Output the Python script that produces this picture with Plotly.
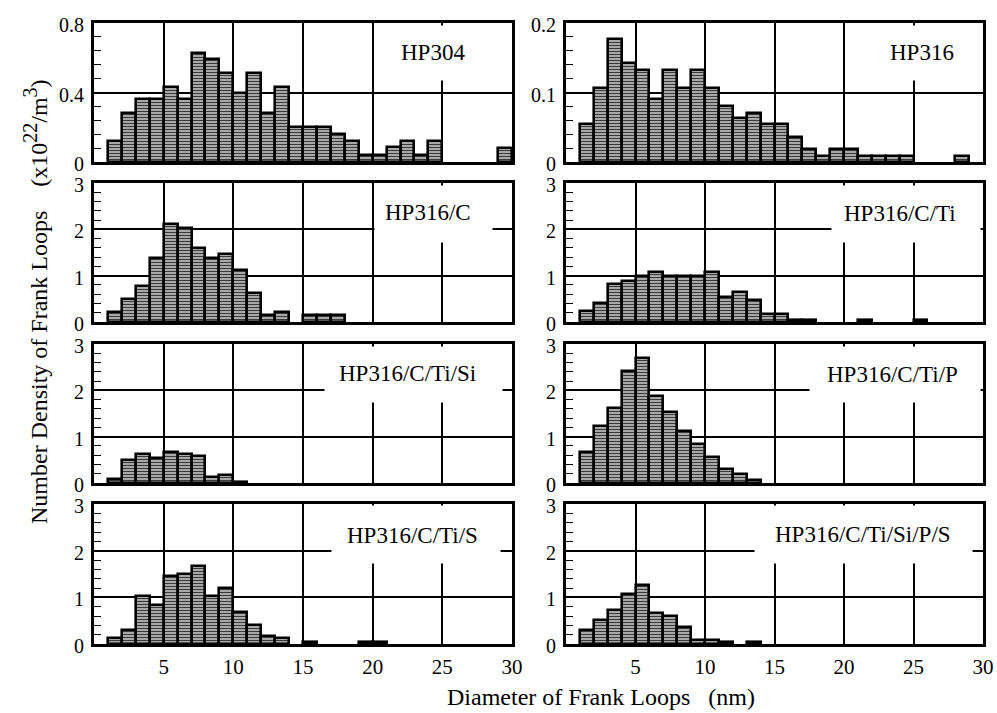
import plotly.graph_objects as go

# ---------------- data ----------------
bin_left = list(range(1, 30))  # bins [1,2], [2,3], ..., [29,30] nm
bin_centers = [b + 0.5 for b in bin_left]

panel_names = ["HP304", "HP316", "HP316/C", "HP316/C/Ti",
               "HP316/C/Ti/Si", "HP316/C/Ti/P", "HP316/C/Ti/S", "HP316/C/Ti/Si/P/S"]

hp304 = [0.12, 0.28, 0.36, 0.36, 0.43, 0.36, 0.63, 0.59, 0.51, 0.40,
         0.51, 0.28, 0.43, 0.20, 0.20, 0.20, 0.16, 0.12, 0.04, 0.04,
         0.085, 0.12, 0.04, 0.12, 0, 0, 0, 0, 0.08]
hp316 = [0.054, 0.107, 0.177, 0.142, 0.133, 0.091, 0.133, 0.107, 0.133, 0.107,
         0.080, 0.063, 0.071, 0.054, 0.054, 0.036, 0.019, 0.009, 0.019, 0.019,
         0.009, 0.009, 0.009, 0.009, 0, 0, 0, 0.009, 0]
hp316_c = [0.22, 0.50, 0.77, 1.39, 2.11, 2.03, 1.60, 1.39, 1.46, 1.13,
           0.63, 0.16, 0.22, 0, 0.16, 0.16, 0.16, 0, 0, 0,
           0, 0, 0, 0, 0, 0, 0, 0, 0]
hp316_c_ti = [0.24, 0.41, 0.83, 0.88, 1.00, 1.07, 1.00, 1.00, 1.00, 1.07,
              0.54, 0.65, 0.47, 0.17, 0.17, 0.05, 0.05, 0, 0, 0,
              0.05, 0, 0, 0, 0.04, 0, 0, 0, 0]
hp316_c_ti_si = [0.09, 0.49, 0.62, 0.53, 0.67, 0.63, 0.58, 0.14, 0.17, 0.02,
                 0, 0, 0, 0, 0, 0, 0, 0, 0, 0,
                 0, 0, 0, 0, 0, 0, 0, 0, 0]
hp316_c_ti_p = [0.66, 1.24, 1.62, 2.41, 2.70, 1.87, 1.53, 1.13, 0.84, 0.56,
                0.30, 0.20, 0.06, 0, 0, 0, 0, 0, 0, 0,
                0, 0, 0, 0, 0, 0, 0, 0, 0]
hp316_c_ti_s = [0.13, 0.30, 1.03, 0.83, 1.46, 1.50, 1.67, 1.03, 1.21, 0.68,
                0.40, 0.18, 0.13, 0, 0.04, 0, 0, 0, 0.04, 0.04,
                0, 0, 0, 0, 0, 0, 0, 0, 0]
hp316_all = [0.30, 0.52, 0.72, 1.07, 1.27, 0.66, 0.60, 0.37, 0.09, 0.09,
             0.04, 0, 0.05, 0, 0, 0, 0, 0, 0, 0,
             0, 0, 0, 0, 0, 0, 0, 0, 0]

series = [hp304, hp316, hp316_c, hp316_c_ti, hp316_c_ti_si, hp316_c_ti_p, hp316_c_ti_s, hp316_all]

y_max = [0.8, 0.2, 3, 3, 3, 3, 3, 3]
y_major = [[0, 0.4, 0.8], [0, 0.1, 0.2]] + [[0, 1, 2, 3]] * 6
y_major_text = [["0", "0.4", "0.8"], ["0", "0.1", "0.2"]] + [["0", "1", "2", "3"]] * 6
y_minor_step = [0.08, 0.02, 0.2, 0.2, 0.2, 0.2, 0.2, 0.2]

x_ticks = [5, 10, 15, 20, 25, 30]
x_tick_text = ["5", "10", "15", "20", "25", "30"]

# ---------------- layout geometry ----------------
W, H = 997, 713
col_px = [(94, 512), (566, 983)]
row_px = [(23, 162), (183, 322), (344, 483), (504, 644)]

# white label boxes (domain fractions: x0, x1, y0) and label text centre (x, y)
label_boxes = [(0.70, 0.98, 0.59), (0.70, 0.98, 0.59), (0.672, 0.952, 0.576), (0.638, 0.993, 0.576),
               (0.553, 0.976, 0.583), (0.585, 0.993, 0.583), (0.569, 0.971, 0.576), (0.453, 0.974, 0.576)]
label_pos = [(0.81, 0.79), (0.854, 0.79), (0.80, 0.79), (0.80, 0.784),
             (0.751, 0.79), (0.782, 0.777), (0.761, 0.777), (0.712, 0.784)]

FONT = "Liberation Serif, Times New Roman, serif"

fig = go.Figure()
layout = dict(
    template="none",
    width=W, height=H, margin=dict(l=0, r=0, t=0, b=0, autoexpand=False),
    paper_bgcolor="white", plot_bgcolor="white", showlegend=False,
    font=dict(family=FONT, color="black", size=20),
    bargap=0,
)
box_annotations = []
text_annotations = []

for k, (name, vals) in enumerate(zip(panel_names, series)):
    r, c = k // 2, k % 2
    xs = "" if k == 0 else str(k + 1)
    xa, ya = "x" + xs, "y" + xs
    yplot = [v if v > 0 else None for v in vals]
    fig.add_trace(go.Bar(
        x=bin_centers, y=yplot, width=1.0, xaxis=xa, yaxis=ya,
        marker=dict(
            color="#c8c8c8",
            pattern=dict(shape="-", fgcolor="#3a3a3a", bgcolor="#cccccc", size=3, solidity=0.5),
            line=dict(color="black", width=2.6),
        ),
        hoverinfo="x+y",
    ))
    x0, x1 = col_px[c]
    t0, t1 = row_px[r]
    pw, ph = x1 - x0, t1 - t0
    layout["xaxis" + xs] = dict(
        domain=[x0 / W, x1 / W], anchor=ya, range=[0, 30], automargin=False,
        tickmode="array", tickvals=x_ticks, ticktext=x_tick_text,
        showticklabels=(r == 3), ticks="", ticklabelstandoff=2,
        showgrid=True, gridcolor="black", gridwidth=1.6,
        showline=True, linecolor="black", linewidth=3, mirror=True,
        zeroline=False, tickfont=dict(size=21, family=FONT),
    )
    step = y_minor_step[k]
    n_minor = int(round(y_max[k] / step))
    minor_vals = [round(i * step, 4) for i in range(1, n_minor)]
    layout["yaxis" + xs] = dict(
        domain=[1 - t1 / H, 1 - t0 / H], anchor=xa, range=[0, y_max[k]], automargin=False,
        tickmode="array", tickvals=y_major[k], ticktext=y_major_text[k],
        ticks="", ticklabelstandoff=3, ticklabelshift=2,
        showgrid=True, gridcolor="black", gridwidth=1.6,
        showline=True, linecolor="black", linewidth=3, mirror=True,
        zeroline=False, tickfont=dict(size=20, family=FONT),
        minor=dict(tickmode="array", tickvals=minor_vals, ticks="inside",
                   ticklen=7, tickwidth=1.4, tickcolor="black", showgrid=False),
    )
    bx0, bx1, by0 = label_boxes[k]
    by1 = 0.982
    box_annotations.append(dict(
        text="&nbsp;", xref=xa + " domain", yref=ya + " domain",
        x=(bx0 + bx1) / 2, y=(by0 + by1) / 2, xanchor="center", yanchor="middle",
        width=(bx1 - bx0) * pw, height=(by1 - by0) * ph, borderpad=0,
        bgcolor="white", showarrow=False, font=dict(size=10),
    ))
    lx, ly = label_pos[k]
    text_annotations.append(dict(
        text=name, xref=xa + " domain", yref=ya + " domain",
        x=lx, y=ly, xanchor="center", yanchor="middle", showarrow=False,
        font=dict(size=23, family=FONT, color="black"),
    ))

titles = [
    dict(text="Diameter of Frank Loops&nbsp;&nbsp;&nbsp;(nm)", xref="paper", yref="paper",
         x=601 / W, y=1 - 697 / H, xanchor="center", yanchor="middle", showarrow=False,
         font=dict(size=24, family=FONT, color="black")),
    dict(text="Number Density of Frank Loops&nbsp;&nbsp;&nbsp;&nbsp;"
              "(x10<sup><span style='font-size:20px'>22</span></sup>"
              "/m<sup><span style='font-size:20px'>3</span></sup>)",
         xref="paper", yref="paper", x=36 / W, y=1 - 302 / H, textangle=-90,
         xanchor="center", yanchor="middle", showarrow=False,
         font=dict(size=24, family=FONT, color="black")),
]

layout["annotations"] = box_annotations + text_annotations + titles
fig.update_layout(**layout)
fig.write_html(
    "out.html",
    config={"displayModeBar": False},
    post_script="document.body.style.margin='0';document.body.style.overflow='hidden';",
)
